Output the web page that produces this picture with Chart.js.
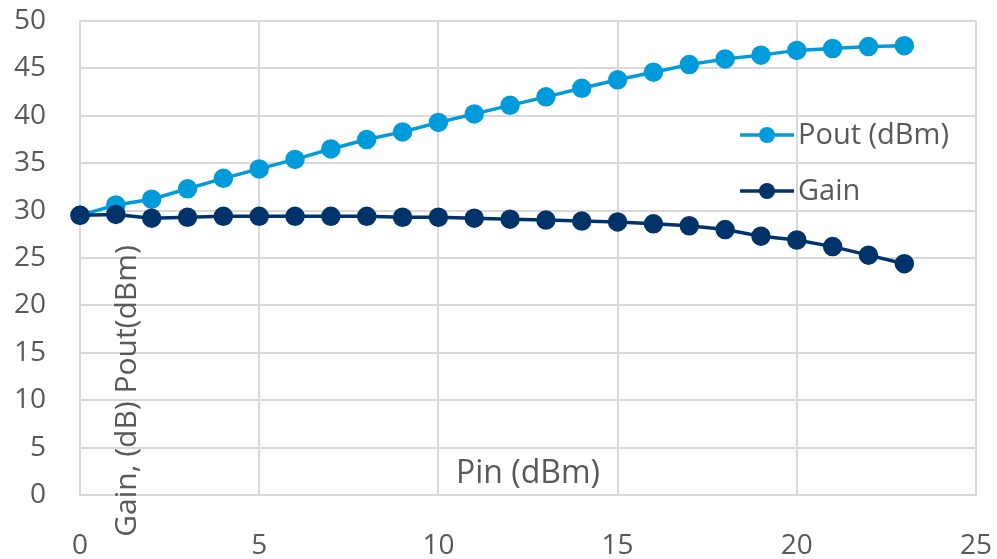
<!DOCTYPE html>
<html>
<head>
<meta charset="utf-8">
<script src="https://cdn.jsdelivr.net/npm/chart.js@4/dist/chart.umd.min.js"></script>
<style>
html,body{margin:0;padding:0;background:#fff;}
#wrap{width:997px;height:559px;position:relative;}
</style>
</head>
<body>
<div id="wrap"><canvas id="c"></canvas></div>
<script>
const pinValues = [0,1,2,3,4,5,6,7,8,9,10,11,12,13,14,15,16,17,18,19,20,21,22,23];
const poutValues = [29.5,30.6,31.2,32.3,33.4,34.4,35.4,36.5,37.5,38.3,39.3,40.2,41.1,42.0,42.9,43.8,44.6,45.4,46.0,46.4,46.9,47.1,47.3,47.4];
const gainValues = [29.5,29.6,29.2,29.3,29.4,29.4,29.4,29.4,29.4,29.3,29.3,29.2,29.1,29.0,28.9,28.8,28.6,28.4,28.0,27.3,26.9,26.2,25.3,24.4];
const seriesNames = ['Pout (dBm)','Gain'];
const xTitle = 'Pin (dBm)';
const yTitle = 'Gain, (dB) Pout(dBm)';

const FONT = "'Open Sans', 'Noto Sans', sans-serif";
const TXT = '#595959';
const C1 = '#009BDB';
const C2 = '#00336A';

const toPts = arr => arr.map((v,i)=>({x:pinValues[i], y:v}));

const overlay = {
  id:'overlay',
  afterDraw(chart){
    const ctx = chart.ctx, a = chart.chartArea;
    ctx.save();
    ctx.fillStyle = TXT;
    ctx.font = "32px " + FONT;
    ctx.textAlign = 'center';
    ctx.textBaseline = 'alphabetic';
    ctx.fillText(xTitle, (a.left+a.right)/2, a.bottom - 12);
    ctx.save();
    ctx.translate(a.left + 47, a.top + 370);
    ctx.rotate(-Math.PI/2);
    ctx.textAlign = 'center';
    ctx.textBaseline = 'middle';
    ctx.font = "30px " + FONT;
    ctx.fillText(yTitle, 0, 0);
    ctx.restore();
    const items = chart.data.datasets;
    const lx0 = a.left + (a.right-a.left)*0.7366;
    const lx1 = lx0 + 54;
    const ys = [a.top + 114, a.top + 170];
    items.forEach((ds,i)=>{
      const y = ys[i];
      ctx.strokeStyle = ds.borderColor;
      ctx.lineWidth = 3.5;
      ctx.beginPath(); ctx.moveTo(lx0,y); ctx.lineTo(lx1,y); ctx.stroke();
      ctx.fillStyle = ds.backgroundColor;
      ctx.beginPath(); ctx.arc((lx0+lx1)/2, y, 8, 0, Math.PI*2); ctx.fill();
      ctx.fillStyle = TXT;
      ctx.font = "29px " + FONT;
      ctx.textAlign = 'left';
      ctx.textBaseline = 'middle';
      ctx.fillText(ds.label, lx1 + 4, y + 1);
    });
    ctx.restore();
  }
};

new Chart(document.getElementById('c'), {
  type:'line',
  data:{
    datasets:[
      {label:seriesNames[0], data:toPts(poutValues), borderColor:C1, backgroundColor:C1, borderWidth:3.5, pointRadius:8, pointHoverRadius:8, tension:0, clip:false, order:1},
      {label:seriesNames[1], data:toPts(gainValues), borderColor:C2, backgroundColor:C2, borderWidth:3.5, pointRadius:8, pointHoverRadius:8, tension:0, clip:false, order:0}
    ]
  },
  options:{
    responsive:true, maintainAspectRatio:false, animation:false,
    layout:{padding:{left:0, top:21, right:21, bottom:0}},
    plugins:{legend:{display:false}, tooltip:{enabled:false}},
    scales:{
      x:{type:'linear', min:0, max:25,
        ticks:{stepSize:5, color:TXT, font:{family:FONT, size:28}, padding:34},
        grid:{color:'#D9D9D9', lineWidth:2, drawTicks:false},
        border:{color:'#D9D9D9', width:2},
        afterFit(s){ s.height = 64; s.paddingLeft = 0; s.paddingRight = 0; }
      },
      y:{min:0, max:50,
        ticks:{stepSize:5, color:TXT, font:{family:FONT, size:28}, padding:34},
        grid:{color:'#D9D9D9', lineWidth:2, drawTicks:false},
        border:{color:'#D9D9D9', width:2},
        afterFit(s){ s.width = 80; s.paddingTop = 0; s.paddingBottom = 0; }
      }
    }
  },
  plugins:[overlay]
});
</script>
</body>
</html>
